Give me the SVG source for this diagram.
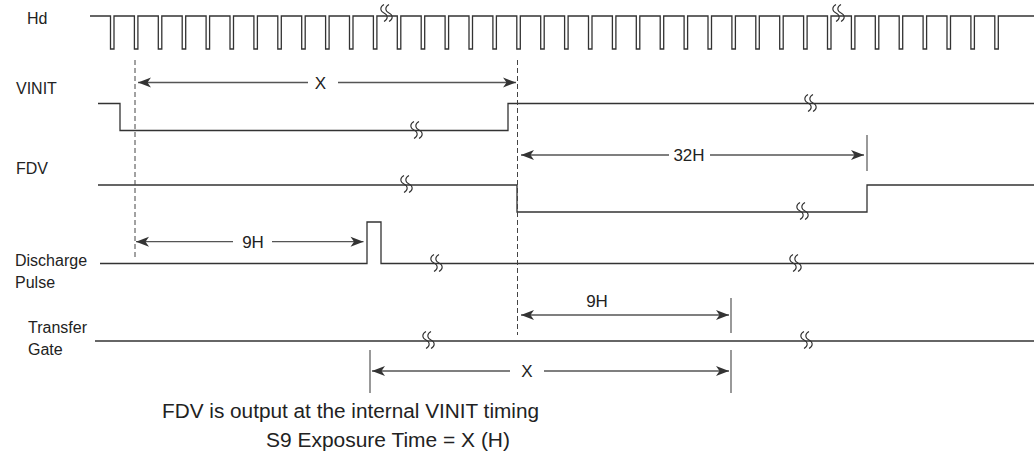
<svg xmlns="http://www.w3.org/2000/svg" xmlns:xlink="http://www.w3.org/1999/xlink" width="1034" height="466" viewBox="0 0 1034 466">
<style>
.sig{fill:none;stroke:#333;stroke-width:1.3}
.brk{fill:none;stroke:#333;stroke-width:1.1}
.arr{fill:none;stroke:#555;stroke-width:1.3}
.tick{fill:none;stroke:#555;stroke-width:1.2}
.dash{fill:none;stroke:#444;stroke-width:1;stroke-dasharray:5 3}
.lbl{font-family:"Liberation Sans",Arial,sans-serif;font-size:16px;fill:#222}
.alb{font-family:"Liberation Sans",Arial,sans-serif;font-size:17px;fill:#222;text-anchor:middle}
.note{font-family:"Liberation Sans",Arial,sans-serif;font-size:20px;fill:#222}
</style>
<defs>
<marker id="ah" viewBox="-14 -6 15 12" refX="0" refY="0" markerWidth="15" markerHeight="12" markerUnits="userSpaceOnUse" orient="auto">
<path d="M0,0 L-13,-5 L-9.5,0 L-13,5 Z" fill="#333"/>
</marker>
<g id="brk">
<path class="brk" d="M-2,-8.5 C-6.5,-6 -6,-2 -2,0 C2,2 2.5,6 -2,8.5"/>
<path class="brk" d="M3,-8.5 C-1.5,-6 -1,-2 3,0 C7,2 7.5,6 3,8.5"/>
</g>
</defs>
<rect width="1034" height="466" fill="#fff"/>

<g id="hd">
<text class="lbl" x="27" y="24">Hd</text>
<path class="sig" d="M90,16 H110.5 v33 h3.5 v-33 h20.4 v33 h3.5 v-33 h20.4 v33 h3.5 v-33 h20.4 v33 h3.5 v-33 h20.4 v33 h3.5 v-33 h20.4 v33 h3.5 v-33 h20.4 v33 h3.5 v-33 h20.4 v33 h3.5 v-33 h20.4 v33 h3.5 v-33 h20.4 v33 h3.5 v-33 h20.4 v33 h3.5 v-33 h20.4 v33 h3.5 v-33 h20.4 v33 h3.5 v-33 h20.4 v33 h3.5 v-33 h20.4 v33 h3.5 v-33 h20.4 v33 h3.5 v-33 h20.4 v33 h3.5 v-33 h20.4 v33 h3.5 v-33 h20.4 v33 h3.5 v-33 h20.4 v33 h3.5 v-33 h20.4 v33 h3.5 v-33 h20.4 v33 h3.5 v-33 h20.4 v33 h3.5 v-33 h20.4 v33 h3.5 v-33 h20.4 v33 h3.5 v-33 h20.4 v33 h3.5 v-33 h20.4 v33 h3.5 v-33 h20.4 v33 h3.5 v-33 h20.4 v33 h3.5 v-33 h20.4 v33 h3.5 v-33 h20.4 v33 h3.5 v-33 h20.4 v33 h3.5 v-33 h20.4 v33 h3.5 v-33 h20.4 v33 h3.5 v-33 h20.4 v33 h3.5 v-33 h20.4 v33 h3.5 v-33 h20.4 v33 h3.5 v-33 h20.4 v33 h3.5 v-33 H1034"/>
<use xlink:href="#brk" href="#brk" x="386" y="13"/>
<use xlink:href="#brk" href="#brk" x="838" y="13"/>
</g>

<g id="vinit">
<text class="lbl" x="16" y="94">VINIT</text>
<path class="sig" d="M98,103.5 H120 V130.5 H508 V103.5 H1034"/>
<use xlink:href="#brk" href="#brk" x="416" y="130"/>
<use xlink:href="#brk" href="#brk" x="810" y="103"/>
</g>

<g id="fdv">
<text class="lbl" x="16" y="174">FDV</text>
<path class="sig" d="M98,185 H517 V212 H867 V185 H1034"/>
<use xlink:href="#brk" href="#brk" x="406" y="184"/>
<use xlink:href="#brk" href="#brk" x="802" y="211"/>
</g>

<g id="discharge">
<text class="lbl" x="15" y="266">Discharge</text>
<text class="lbl" x="15" y="288">Pulse</text>
<path class="sig" d="M100,263.5 H367 V222 H381 V263.5 H1034"/>
<use xlink:href="#brk" href="#brk" x="436" y="263"/>
<use xlink:href="#brk" href="#brk" x="795" y="263"/>
</g>

<g id="transfer">
<text class="lbl" x="28" y="333">Transfer</text>
<text class="lbl" x="28" y="355">Gate</text>
<path class="sig" d="M95,341 H1034"/>
<use xlink:href="#brk" href="#brk" x="428" y="340"/>
<use xlink:href="#brk" href="#brk" x="806" y="340"/>
</g>

<g id="connectors">
<line class="dash" x1="135" y1="60" x2="135" y2="257"/>
<line class="dash" x1="517.5" y1="60" x2="517.5" y2="335"/>

<line class="arr" x1="308" y1="82.5" x2="138" y2="82.5" marker-end="url(#ah)"/>
<line class="arr" x1="338" y1="82.5" x2="516" y2="82.5" marker-end="url(#ah)"/>
<text class="alb" x="320.5" y="89">X</text>

<line class="arr" x1="669" y1="155" x2="521" y2="155" marker-end="url(#ah)"/>
<line class="arr" x1="710" y1="155" x2="864" y2="155" marker-end="url(#ah)"/>
<text class="alb" x="689" y="161">32H</text>
<line class="tick" x1="867" y1="135" x2="867" y2="171"/>

<line class="arr" x1="233" y1="241.7" x2="136" y2="241.7" marker-end="url(#ah)"/>
<line class="arr" x1="272" y1="241.7" x2="363.5" y2="241.7" marker-end="url(#ah)"/>
<text class="alb" x="253" y="247.5">9H</text>

<line class="arr" x1="600" y1="315" x2="521" y2="315" marker-end="url(#ah)"/>
<line class="arr" x1="600" y1="315" x2="729" y2="315" marker-end="url(#ah)"/>
<text class="alb" x="597" y="307">9H</text>
<line class="tick" x1="731" y1="298" x2="731" y2="333"/>

<line class="arr" x1="510" y1="371" x2="372" y2="371" marker-end="url(#ah)"/>
<line class="arr" x1="544" y1="371" x2="729" y2="371" marker-end="url(#ah)"/>
<text class="alb" x="527" y="377">X</text>
<line class="tick" x1="370" y1="350" x2="370" y2="393"/>
<line class="tick" x1="731" y1="350" x2="731" y2="393"/>
</g>

<text class="note" x="162" y="418" textLength="377" lengthAdjust="spacingAndGlyphs">FDV is output at the internal VINIT timing</text>
<text class="note" x="266" y="447" textLength="244" lengthAdjust="spacingAndGlyphs">S9 Exposure Time = X (H)</text>
</svg>
